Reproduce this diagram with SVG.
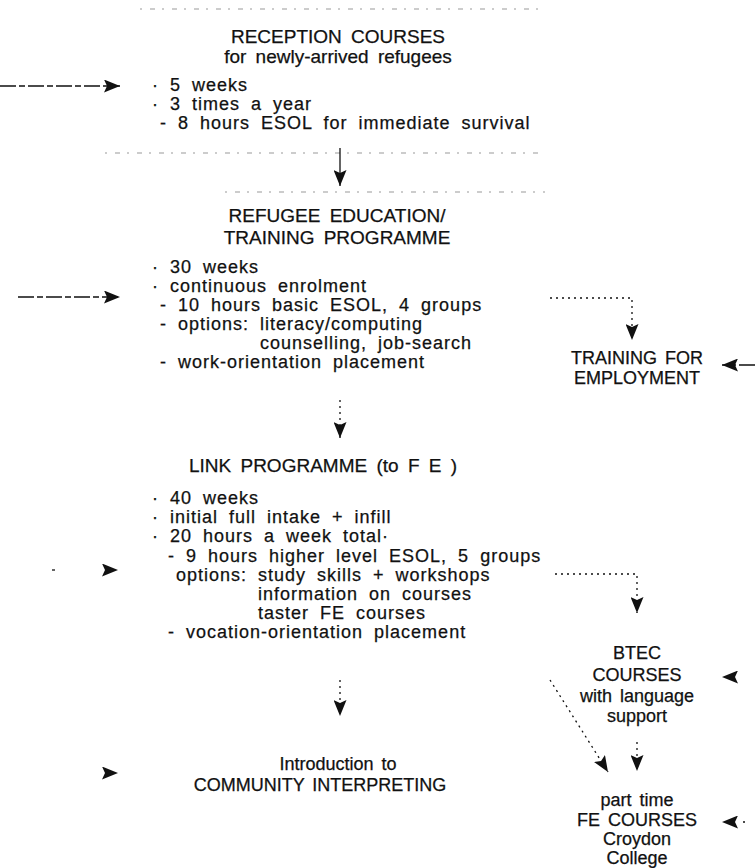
<svg xmlns="http://www.w3.org/2000/svg" width="755" height="868" viewBox="0 0 755 868">
<style>
text{font-family:"Liberation Sans",Arial,sans-serif;fill:#111;stroke:#111;stroke-width:0.25}
.t{font-size:19px;text-anchor:middle;word-spacing:4px}
.b{font-size:18px;letter-spacing:1px;word-spacing:5px}
.r{font-size:18px;text-anchor:middle;word-spacing:3px}
.frame{stroke:#999;stroke-width:1;stroke-dasharray:2 8 5 7;fill:none}
.c{stroke:#111;stroke-width:1.3;fill:none}
.dash{stroke-dasharray:16 3 6 3}
.dot{stroke-dasharray:2 4}
</style>
<defs>
<marker id="ah" markerUnits="userSpaceOnUse" markerWidth="17" markerHeight="13" refX="16" refY="6.5" orient="auto">
<path d="M0,0 L16,6.5 L0,13 L3,6.5 z" fill="#111"/>
</marker>
</defs>
<g id="reception">
<line class="frame" x1="140" y1="9" x2="545" y2="9"/>
<text class="t" x="338" y="43">RECEPTION COURSES</text>
<text class="t" x="338" y="63">for newly-arrived refugees</text>
<text class="b" x="152" y="91">· 5 weeks</text>
<text class="b" x="152" y="110">· 3 times a year</text>
<text class="b" x="160" y="129">- 8 hours ESOL for immediate survival</text>
<line class="frame" x1="105" y1="153" x2="545" y2="153"/>
</g>
<g id="refugee">
<line class="frame" x1="225" y1="192" x2="545" y2="192"/>
<text class="t" x="337" y="222">REFUGEE EDUCATION/</text>
<text class="t" x="337" y="244">TRAINING PROGRAMME</text>
<text class="b" x="152" y="273">· 30 weeks</text>
<text class="b" x="152" y="292">· continuous enrolment</text>
<text class="b" x="160" y="311">- 10 hours basic ESOL, 4 groups</text>
<text class="b" x="160" y="330">- options: literacy/computing</text>
<text class="b" x="260" y="349">counselling, job-search</text>
<text class="b" x="160" y="368">- work-orientation placement</text>
</g>
<g id="training">
<text class="r" x="637" y="364">TRAINING FOR</text>
<text class="r" x="637" y="384">EMPLOYMENT</text>
</g>
<g id="link">
<text class="t" x="323" y="472">LINK PROGRAMME (to F E )</text>
<text class="b" x="152" y="504">· 40 weeks</text>
<text class="b" x="152" y="523">· initial full intake + infill</text>
<text class="b" x="152" y="542">· 20 hours a week total·</text>
<text class="b" x="168" y="562">- 9 hours higher level ESOL, 5 groups</text>
<text class="b" x="176" y="581">options: study skills + workshops</text>
<text class="b" x="258" y="600">information on courses</text>
<text class="b" x="258" y="619">taster FE courses</text>
<text class="b" x="168" y="638">- vocation-orientation placement</text>
</g>
<g id="btec">
<text class="r" x="637" y="659">BTEC</text>
<text class="r" x="637" y="681">COURSES</text>
<text class="r" x="637" y="702">with language</text>
<text class="r" x="637" y="722">support</text>
</g>
<g id="community">
<text class="r" x="338" y="770">Introduction to</text>
<text class="r" x="320" y="791">COMMUNITY INTERPRETING</text>
</g>
<g id="fe">
<text class="r" x="637" y="806">part time</text>
<text class="r" x="637" y="826">FE COURSES</text>
<text class="r" x="637" y="845">Croydon</text>
<text class="r" x="637" y="864">College</text>
</g>
<g id="connectors">
<line class="c dash" x1="0" y1="86" x2="120" y2="86" marker-end="url(#ah)"/>
<line class="c" x1="340" y1="148" x2="340" y2="186" marker-end="url(#ah)"/>
<line class="c dash" x1="18" y1="297" x2="120" y2="297" marker-end="url(#ah)"/>
<polyline class="c dot" points="550,298 632,298 632,340" marker-end="url(#ah)"/>
<line class="c dash" x1="755" y1="365" x2="722" y2="365" marker-end="url(#ah)"/>
<line class="c dot" x1="340" y1="400" x2="340" y2="438" marker-end="url(#ah)"/>
<line class="c" stroke-dasharray="3 1000" x1="52" y1="570" x2="118" y2="570" marker-end="url(#ah)"/>
<polyline class="c dot" points="555,574 637,574 637,613" marker-end="url(#ah)"/>
<line class="c" stroke-opacity="0" x1="745" y1="677" x2="722" y2="677" marker-end="url(#ah)"/>
<line class="c dot" x1="550" y1="680" x2="608" y2="772" marker-end="url(#ah)"/>
<line class="c dot" x1="637" y1="742" x2="637" y2="771" marker-end="url(#ah)"/>
<line class="c dot" x1="340" y1="680" x2="340" y2="716" marker-end="url(#ah)"/>
<line class="c" stroke-opacity="0" x1="90" y1="773" x2="118" y2="773" marker-end="url(#ah)"/>
<line class="c" stroke-dasharray="2 1000" x1="745" y1="822" x2="722" y2="822" marker-end="url(#ah)"/>
</g>
</svg>
